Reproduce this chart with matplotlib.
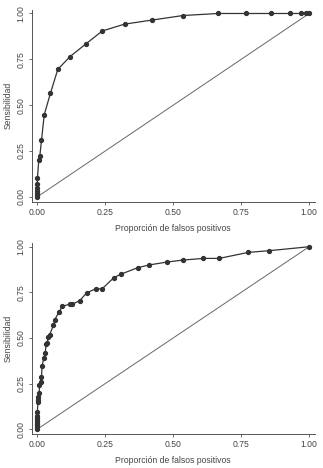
import numpy as np
import matplotlib.pyplot as plt

plt.rcParams['font.family'] = ['Liberation Sans', 'DejaVu Sans']

# curva 1 (panel superior)
fpr_1 = [0.0, 0.0, 0.0, 0.0, 0.0, 0.0, 0.0, 0.005, 0.009, 0.015, 0.025, 0.048, 0.075,
         0.12, 0.18, 0.239, 0.321, 0.421, 0.536, 0.665, 0.769, 0.861, 0.929, 0.969,
         0.99, 1.0]
sens_1 = [0.0, 0.01, 0.02, 0.03, 0.05, 0.07, 0.10, 0.20, 0.225, 0.307, 0.447, 0.565, 0.695,
          0.765, 0.836, 0.905, 0.942, 0.964, 0.989, 1.0, 1.0, 1.0, 1.0, 1.0, 1.0, 1.0]

# curva 2 (panel inferior)
fpr_2 = [0.0, 0.0, 0.0, 0.0, 0.0, 0.0, 0.0, 0.0, 0.0, 0.002, 0.002, 0.004, 0.007, 0.007,
         0.012, 0.015, 0.017, 0.024, 0.029, 0.032, 0.037, 0.039, 0.045, 0.059, 0.064,
         0.08, 0.092, 0.119, 0.129, 0.156, 0.181, 0.214, 0.238, 0.281, 0.308, 0.369,
         0.411, 0.477, 0.536, 0.611, 0.669, 0.776, 0.851, 1.0]
sens_2 = [0.0, 0.01, 0.02, 0.03, 0.04, 0.05, 0.06, 0.07, 0.096, 0.15, 0.16, 0.178, 0.20,
          0.24, 0.26, 0.284, 0.347, 0.39, 0.42, 0.464, 0.473, 0.505, 0.518, 0.569, 0.60,
          0.644, 0.673, 0.685, 0.685, 0.705, 0.747, 0.769, 0.769, 0.83, 0.85, 0.885,
          0.90, 0.916, 0.927, 0.936, 0.936, 0.969, 0.978, 1.0]

ticks = [0, 0.25, 0.5, 0.75, 1.0]
tick_labels = ["0.00", "0.25", "0.50", "0.75", "1.00"]

fig = plt.figure(figsize=(3.23, 4.68), dpi=100)
txt = "#444444"

def roc_panel(rect, x, y):
    ax = fig.add_axes(rect)
    ax.plot([0, 1], [0, 1], color="#666666", lw=0.7)
    ax.plot(x, y, color="#333333", lw=0.9, marker="o", ms=2.8, mfc="#333333", mec="#333333")
    ax.set_xlim(-0.02, 1.02)
    ax.set_ylim(-0.027, 1.02)
    ax.set_xticks(ticks)
    ax.set_xticklabels(tick_labels)
    ax.set_yticks(ticks)
    ax.set_yticklabels(tick_labels, rotation=90, va="center")
    for s in ["top", "right"]:
        ax.spines[s].set_visible(False)
    for s in ["left", "bottom"]:
        ax.spines[s].set_color("#555555")
        ax.spines[s].set_linewidth(0.7)
    ax.tick_params(length=2.5, width=0.6, color="#555555", labelsize=6.2, labelcolor=txt, pad=2)
    ax.set_xlabel("Proporción de falsos positivos", fontsize=6.2, color=txt, labelpad=5)
    ax.set_ylabel("Sensibilidad", fontsize=6.2, color=txt, labelpad=3)
    return ax

roc_panel([0.099, 0.569, 0.875, 0.41], fpr_1, sens_1)
roc_panel([0.099, 0.0726, 0.875, 0.408], fpr_2, sens_2)

fig.savefig("out.png", dpi=100)
